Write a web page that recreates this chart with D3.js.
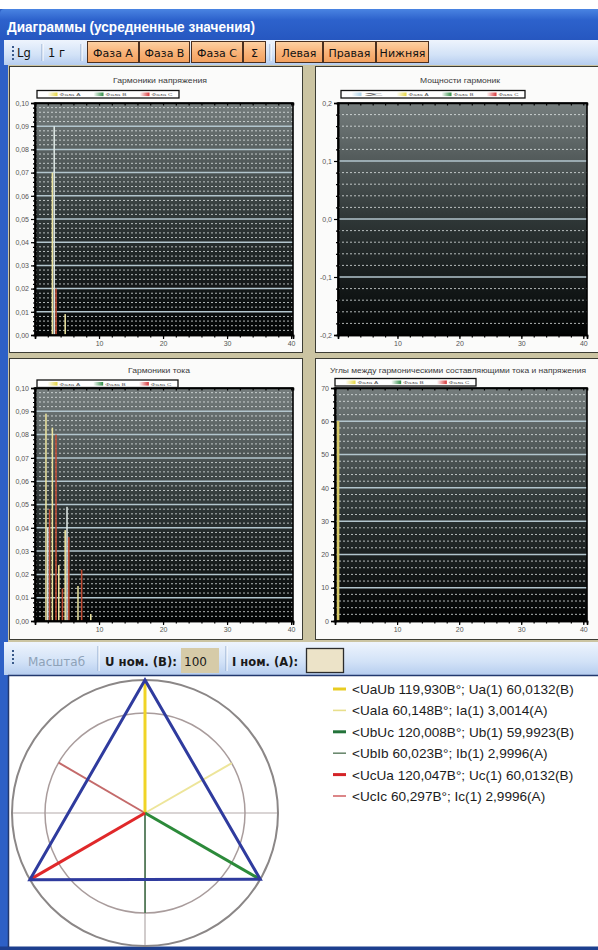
<!DOCTYPE html>
<html lang="ru">
<head>
<meta charset="utf-8">
<title>Диаграммы (усредненные значения)</title>
<script src="https://cdn.jsdelivr.net/npm/d3@7/dist/d3.min.js"></script>
<style>
html,body{margin:0;padding:0;background:#fff;}
svg{display:block;}
</style>
</head>
<body>
<svg id="view" width="598" height="950"></svg>
<script>
// ---------- harmonic number axis ----------
const harmonicTicks = [10, 20, 30, 40];

// ---------- Гармоники напряжения ----------
const voltageHarmonics = [3, 5];
const voltagePhaseA = [0.070, 0.009];
const voltagePhaseB = [0.090, 0];
const voltagePhaseC = [0.020, 0];
const voltageTicks = [0, 0.01, 0.02, 0.03, 0.04, 0.05, 0.06, 0.07, 0.08, 0.09, 0.10];

// ---------- Мощности гармоник ----------
const powerHarmonics = [];
const powerTotal = [];
const powerTicks = [-0.2, -0.1, 0, 0.1, 0.2];

// ---------- Гармоники тока ----------
const currentHarmonics = [2, 3, 4, 5, 7, 9];
const currentPhaseA = [0.089, 0.083, 0.024, 0.039, 0.015, 0.003];
const currentPhaseB = [0.040, 0, 0, 0.049, 0, 0];
const currentPhaseC = [0.048, 0.080, 0.014, 0.036, 0.022, 0];
const currentTicks = [0, 0.01, 0.02, 0.03, 0.04, 0.05, 0.06, 0.07, 0.08, 0.09, 0.10];

// ---------- Углы между гармоническими составляющими ----------
const angleHarmonics = [1];
const anglePhaseA = [60.1];
const angleTicks = [0, 10, 20, 30, 40, 50, 60, 70];

// ---------- legend captions ----------
const phaseLabels = ["Фаза А", "Фаза В", "Фаза С"];
const powerLabels = ["Σ", "Фаза А", "Фаза В", "Фаза С"];

// ---------- vector diagram (fundamental) ----------
const pairNames = ["UaUb", "UaIa", "UbUc", "UbIb", "UcUa", "UcIc"];
const pairAngles = [119.930, 60.148, 120.008, 60.023, 120.047, 60.297];
const fundNames = ["Ua(1)", "Ia(1)", "Ub(1)", "Ib(1)", "Uc(1)", "Ic(1)"];
const fundValues = [60.0132, 3.0014, 59.9923, 2.9996, 60.0132, 2.9996];
const fundUnits = ["В", "A", "В", "A", "В", "A"];

// ---------- toolbar captions ----------
const modeButtons = ["Lg", "1 г"];
const phaseButtons = ["Фаза А", "Фаза В", "Фаза С", "Σ"];
const panelButtons = ["Левая", "Правая", "Нижняя"];

const svg = d3.select("#view");
const defs = svg.append("defs");

function vGrad(id, stops) {
  const gr = defs.append("linearGradient").attr("id", id)
    .attr("x1", 0).attr("y1", 0).attr("x2", 0).attr("y2", 1);
  stops.forEach(([o, c]) => gr.append("stop").attr("offset", o).attr("stop-color", c));
}
function hGrad(id, stops) {
  const gr = defs.append("linearGradient").attr("id", id)
    .attr("x1", 0).attr("y1", 0).attr("x2", 1).attr("y2", 0);
  stops.forEach(([o, c]) => gr.append("stop").attr("offset", o).attr("stop-color", c));
}
vGrad("plotBg", [[0, "#757d7d"], [0.5, "#2f3737"], [1, "#010303"]]);
vGrad("titleBar", [[0, "#4a84e2"], [0.35, "#2d62cc"], [1, "#2657c0"]]);
vGrad("toolbar", [[0, "#eef4fd"], [0.6, "#d2e2f7"], [1, "#b6cdef"]]);
vGrad("btn", [[0, "#fdd2a4"], [0.5, "#f9b47a"], [1, "#f2a05e"]]);
const phaseColor = { S: "#a9d0e6", A: "#e6d640", B: "#2f8c45", C: "#d8363a" };
Object.entries(phaseColor).forEach(([k, c]) =>
  hGrad("sw" + k, [[0, "#ffffff"], [0.45, "#ffffff"], [1, c]]));

// ---------- window frame ----------
svg.append("rect").attr("x", 0).attr("y", 9).attr("width", 598).attr("height", 941).attr("fill", "#2d60c6");
svg.append("path").attr("d", "M0,40 V14 Q0,9 5,9 H598 V40 Z").attr("fill", "url(#titleBar)");
svg.append("text").attr("x", 7).attr("y", 32)
  .attr("font-family", "Liberation Sans, Arial, sans-serif").attr("font-weight", "bold")
  .attr("font-size", 15).attr("fill", "#fff")
  .attr("textLength", 248).attr("lengthAdjust", "spacingAndGlyphs")
  .text("Диаграммы (усредненные значения)");

// ---------- toolbar ----------
function gripper(x, y0) {
  for (let i = 0; i < 4; i++)
    svg.append("rect").attr("x", x).attr("y", y0 + i * 4).attr("width", 2).attr("height", 2).attr("fill", "#3a5a8a");
}
function separator(x, y0, y1) {
  svg.append("line").attr("x1", x).attr("x2", x).attr("y1", y0).attr("y2", y1).attr("stroke", "#8fa8cc");
  svg.append("line").attr("x1", x + 1).attr("x2", x + 1).attr("y1", y0).attr("y2", y1).attr("stroke", "#fff");
}
const uiFont = "DejaVu Sans, Verdana, sans-serif";
svg.append("rect").attr("x", 4).attr("y", 40).attr("width", 594).attr("height", 25).attr("fill", "url(#toolbar)");
gripper(12, 46);
const modeX = [17, 48];
modeButtons.forEach((t, i) => {
  svg.append("text").attr("x", modeX[i]).attr("y", 57).attr("font-family", uiFont)
    .attr("font-size", 11.5).attr("fill", "#111").text(t);
});
separator(42, 44, 61);
separator(81, 44, 61);
const phaseBtnX = [87, 139, 191, 243];
const phaseBtnW = [51, 50, 51, 22];
phaseButtons.forEach((t, i) => {
  svg.append("rect").attr("x", phaseBtnX[i] + 0.5).attr("y", 41.5).attr("width", phaseBtnW[i]).attr("height", 21)
    .attr("fill", "url(#btn)").attr("stroke", "#4a3020").attr("stroke-width", 1);
  svg.append("text").attr("x", phaseBtnX[i] + phaseBtnW[i] / 2 + 0.5).attr("y", 56.5).attr("text-anchor", "middle")
    .attr("font-family", uiFont).attr("font-size", 11).attr("fill", "#111").text(t);
});
separator(270, 44, 61);
const panelBtnX = [275, 323, 376];
const panelBtnW = [47, 52, 52];
panelButtons.forEach((t, i) => {
  svg.append("rect").attr("x", panelBtnX[i] + 0.5).attr("y", 41.5).attr("width", panelBtnW[i]).attr("height", 21)
    .attr("fill", "url(#btn)").attr("stroke", "#4a3020").attr("stroke-width", 1);
  svg.append("text").attr("x", panelBtnX[i] + panelBtnW[i] / 2 + 0.5).attr("y", 56.5).attr("text-anchor", "middle")
    .attr("font-family", uiFont).attr("font-size", 11).attr("fill", "#111").text(t);
});

// ---------- chart area (four panels) ----------
svg.append("rect").attr("x", 8).attr("y", 65).attr("width", 590).attr("height", 577).attr("fill", "#cbc4a2");
const panels = [[9.5, 66.5, 293, 286], [315.5, 66.5, 290, 286], [9.5, 358.5, 293, 281], [315.5, 358.5, 290, 281]];
panels.forEach(([px, py, pw, ph]) => {
  svg.append("rect").attr("x", px).attr("y", py).attr("width", pw).attr("height", ph)
    .attr("fill", "#fbfbfa").attr("stroke", "#3c3c34").attr("stroke-width", 1);
});

const labelFont = "Liberation Sans, Arial, sans-serif";
const commaFmt = p => v => d3.format("." + p + "f")(v).replace(".", ",").replace("−", "-");

function drawChart(spec) {
  const g = svg.append("g");
  const x = d3.scaleLinear().domain(spec.xDomain).range([spec.left, spec.right]);
  const y = d3.scaleLinear().domain(spec.yDomain).range([spec.bottom, spec.top]);

  // title
  g.append("text").attr("x", spec.titleX).attr("y", spec.titleY).attr("text-anchor", "middle")
    .attr("font-family", labelFont).attr("font-size", 6.5).attr("fill", "#3a3a3a")
    .attr("textLength", spec.titleW).attr("lengthAdjust", "spacingAndGlyphs").text(spec.title);

  // legend
  const lg = g.append("g").attr("transform", `translate(${spec.legendX},${spec.legendY})`);
  lg.append("rect").attr("width", spec.legendW).attr("height", 7.5)
    .attr("fill", "#fff").attr("stroke", "#111").attr("stroke-width", 1.3);
  const itemW = (spec.legendW - 4) / spec.legend.length;
  spec.legend.forEach((it, i) => {
    const ix = 2.5 + i * itemW;
    lg.append("rect").attr("x", ix).attr("y", 2).attr("width", 18).attr("height", 3.6).attr("fill", `url(#sw${it.key})`);
    lg.append("text").attr("x", ix + 20).attr("y", 5.6).attr("font-family", labelFont).attr("font-size", 4.3)
      .attr("fill", "#555").attr("textLength", itemW - 25).attr("lengthAdjust", "spacingAndGlyphs").text(it.label);
  });

  // plot background
  g.append("rect").attr("x", spec.left).attr("y", spec.top)
    .attr("width", spec.right - spec.left).attr("height", spec.bottom - spec.top).attr("fill", "url(#plotBg)");

  // minor grid (dotted)
  const minor = y.ticks(spec.minorCount).filter(v => !spec.yTicks.some(t => Math.abs(t - v) < 1e-9));
  g.append("g").selectAll("line").data(minor).join("line")
    .attr("x1", spec.left).attr("x2", spec.right)
    .attr("y1", d => y(d)).attr("y2", d => y(d))
    .attr("stroke", "#e8eeee").attr("stroke-opacity", 0.75).attr("stroke-width", 1)
    .attr("stroke-dasharray", "2,2");

  // major grid
  g.append("g").selectAll("line").data(spec.yTicks.filter(v => v !== spec.yDomain[0])).join("line")
    .attr("x1", spec.left).attr("x2", spec.right)
    .attr("y1", d => y(d)).attr("y2", d => y(d))
    .attr("stroke", "#b3c6ce").attr("stroke-width", 1.5);

  // bars: one group per harmonic, one sub-bar per phase
  const sub = d3.scaleBand().domain(["A", "B", "C"]).range([-spec.groupHalf, spec.groupHalf]).paddingInner(0.15);
  spec.series.forEach(s => {
    const pts = spec.harmonics.map((hN, i) => ({ h: hN, v: s.values[i] })).filter(d => d.v > 0);
    g.append("g").selectAll("rect").data(pts).join("rect")
      .attr("x", d => x(d.h) + sub(s.key)).attr("width", sub.bandwidth())
      .attr("y", d => y(d.v)).attr("height", d => y(spec.yDomain[0]) - y(d.v))
      .attr("fill", s.fill);
  });

  // axes
  const ax = g.append("g").attr("font-family", labelFont);
  ax.append("g").attr("transform", `translate(${spec.left},0)`)
    .call(d3.axisLeft(y).tickValues(y.ticks(spec.minorCount)).tickFormat("").tickSize(2));
  ax.append("g").attr("transform", `translate(${spec.left},0)`)
    .call(d3.axisLeft(y).tickValues(spec.yTicks).tickFormat(spec.format).tickSize(4).tickPadding(2));
  ax.append("g").attr("transform", `translate(0,${spec.bottom})`)
    .call(d3.axisBottom(x).tickValues(x.ticks(20)).tickFormat("").tickSize(2.5));
  ax.append("g").attr("transform", `translate(0,${spec.bottom})`)
    .call(d3.axisBottom(x).tickValues(harmonicTicks).tickFormat(d3.format("d")).tickSize(4).tickPadding(2));
  ax.append("g").attr("transform", `translate(0,${spec.top})`)
    .call(d3.axisTop(x).tickValues(x.ticks(20)).tickFormat("").tickSize(-2.5));
  ax.selectAll(".domain").attr("stroke", "#000").attr("stroke-width", 1.6);
  ax.selectAll(".tick line").attr("stroke", "#000").attr("stroke-width", 1.2);
  ax.selectAll(".tick text").attr("font-size", 7).attr("fill", "#555");

  // frame
  g.append("rect").attr("x", spec.left).attr("y", spec.top)
    .attr("width", spec.right - spec.left).attr("height", spec.bottom - spec.top)
    .attr("fill", "none").attr("stroke", "#000").attr("stroke-width", 1.6);
}

const barFill = { A: "#ebe39e", B: "#dde7e4", C: "#c04c34" };
const phaseLegend = phaseLabels.map((l, i) => ({ key: "ABC"[i], label: l }));

drawChart({
  title: "Гармоники напряжения", titleX: 160, titleY: 83, titleW: 94,
  legendX: 37, legendY: 90.5, legendW: 142, legend: phaseLegend,
  left: 35, right: 293, top: 103, bottom: 335,
  xDomain: [0, 40.3], yDomain: [0, 0.10], yTicks: voltageTicks, minorCount: 50, format: commaFmt(2),
  harmonics: voltageHarmonics, groupHalf: 2.6,
  series: [{ key: "A", values: voltagePhaseA, fill: barFill.A },
           { key: "B", values: voltagePhaseB, fill: barFill.B },
           { key: "C", values: voltagePhaseC, fill: barFill.C }]
});

drawChart({
  title: "Мощности гармоник", titleX: 460, titleY: 83, titleW: 80,
  legendX: 341, legendY: 90.5, legendW: 184,
  legend: powerLabels.map((l, i) => ({ key: "SABC"[i], label: l })),
  left: 338, right: 587, top: 103, bottom: 335,
  xDomain: [0.4, 40.6], yDomain: [-0.2, 0.2], yTicks: powerTicks, minorCount: 20, format: commaFmt(1),
  harmonics: powerHarmonics, groupHalf: 2.6,
  series: [{ key: "A", values: powerTotal, fill: "#a9d0e6" }]
});

drawChart({
  title: "Гармоники тока", titleX: 159, titleY: 373, titleW: 62,
  legendX: 37, legendY: 380, legendW: 141, legend: phaseLegend,
  left: 35, right: 293, top: 388, bottom: 621,
  xDomain: [0, 40.3], yDomain: [0, 0.10], yTicks: currentTicks, minorCount: 50, format: commaFmt(2),
  harmonics: currentHarmonics, groupHalf: 2.6,
  series: [{ key: "A", values: currentPhaseA, fill: barFill.A },
           { key: "B", values: currentPhaseB, fill: barFill.B },
           { key: "C", values: currentPhaseC, fill: barFill.C }]
});

drawChart({
  title: "Углы между гармоническими составляющими тока и напряжения", titleX: 458, titleY: 373, titleW: 256,
  legendX: 335, legendY: 378.5, legendW: 141, legend: phaseLegend,
  left: 335, right: 587, top: 388, bottom: 621,
  xDomain: [0, 40.6], yDomain: [0, 70], yTicks: angleTicks, minorCount: 35, format: d3.format("d"),
  harmonics: angleHarmonics, groupHalf: 4.6,
  series: [{ key: "A", values: anglePhaseA, fill: "#d6c866" }]
});

// ---------- second toolbar ----------
svg.append("rect").attr("x", 4).attr("y", 642).attr("width", 594).attr("height", 33).attr("fill", "url(#toolbar)");
gripper(12, 650);
svg.append("text").attr("x", 28).attr("y", 666).attr("font-family", uiFont).attr("font-size", 12)
  .attr("fill", "#8ea2b8").text("Масштаб");
separator(98, 646, 671);
svg.append("text").attr("x", 105).attr("y", 666).attr("font-family", uiFont).attr("font-size", 12)
  .attr("font-weight", "bold").attr("fill", "#1a1a1a").attr("textLength", 72).attr("lengthAdjust", "spacingAndGlyphs")
  .text("U ном. (В):");
svg.append("rect").attr("x", 181).attr("y", 648).attr("width", 38).attr("height", 25).attr("fill", "#d6cba8");
svg.append("text").attr("x", 184).attr("y", 666).attr("font-family", uiFont).attr("font-size", 12)
  .attr("fill", "#1a1a1a").text("100");
separator(226, 646, 671);
svg.append("text").attr("x", 232).attr("y", 666).attr("font-family", uiFont).attr("font-size", 12)
  .attr("font-weight", "bold").attr("fill", "#1a1a1a").attr("textLength", 66).attr("lengthAdjust", "spacingAndGlyphs")
  .text("I ном. (A):");
svg.append("rect").attr("x", 306.5).attr("y", 648.5).attr("width", 37).attr("height", 24)
  .attr("fill", "#ece3c8").attr("stroke", "#2c2c2c").attr("stroke-width", 1.3);

// ---------- vector diagram area ----------
svg.append("rect").attr("x", 9).attr("y", 675).attr("width", 589).attr("height", 272).attr("fill", "#fff");
svg.append("line").attr("x1", 8).attr("x2", 598).attr("y1", 675.5).attr("y2", 675.5).attr("stroke", "#22386e").attr("stroke-width", 1.5);
svg.append("rect").attr("x", 0).attr("y", 946.5).attr("width", 598).attr("height", 4).attr("fill", "#1d3f8e");
svg.append("line").attr("x1", 8.5).attr("x2", 8.5).attr("y1", 675).attr("y2", 947).attr("stroke", "#22386e").attr("stroke-width", 1.5);

const cx = 145, cy = 813;
const uScale = d3.scaleLinear().domain([0, 60]).range([0, 133]);
const iScale = d3.scaleLinear().domain([0, 3]).range([0, 100]);

// phasor angles (degrees, counter-clockwise), Ua along the vertical
const angUa = 90;
const angUb = angUa - pairAngles[0];
const angUc = angUb - pairAngles[2];
const angIa = angUa - pairAngles[1];
const angIb = angUb - pairAngles[3];
const angIc = angUc - pairAngles[5];
const tip = (deg, r) => [cx + r * Math.cos(deg * Math.PI / 180), cy - r * Math.sin(deg * Math.PI / 180)];

const vd = svg.append("g");
const rOuter = uScale(60), rInner = iScale(3);
vd.append("line").attr("x1", cx - rOuter).attr("x2", cx + rOuter).attr("y1", cy).attr("y2", cy)
  .attr("stroke", "#b3aaaa").attr("stroke-width", 1.2);
vd.append("line").attr("x1", cx).attr("x2", cx).attr("y1", cy - rOuter).attr("y2", cy + rOuter)
  .attr("stroke", "#b3aaaa").attr("stroke-width", 1.2);
vd.append("circle").attr("cx", cx).attr("cy", cy).attr("r", rOuter)
  .attr("fill", "none").attr("stroke", "#8b8787").attr("stroke-width", 2);
vd.append("circle").attr("cx", cx).attr("cy", cy).attr("r", rInner)
  .attr("fill", "none").attr("stroke", "#a99c9c").attr("stroke-width", 1.5);

const phasors = [
  { ang: angIa, r: iScale(fundValues[1]), color: "#ede59a", w: 2 },
  { ang: angIb, r: iScale(fundValues[3]), color: "#3d6d45", w: 1.5 },
  { ang: angIc, r: iScale(fundValues[5]), color: "#c46a6a", w: 2 },
  { ang: angUa, r: uScale(fundValues[0]), color: "#f0d426", w: 3 },
  { ang: angUb, r: uScale(fundValues[2]), color: "#2c8a3a", w: 3 },
  { ang: angUc, r: uScale(fundValues[4]), color: "#e0282a", w: 3 }
];
vd.selectAll("line.ph").data(phasors).join("line").attr("class", "ph")
  .attr("x1", cx).attr("y1", cy)
  .attr("x2", d => tip(d.ang, d.r)[0]).attr("y2", d => tip(d.ang, d.r)[1])
  .attr("stroke", d => d.color).attr("stroke-width", d => d.w);

const tri = [tip(angUa, uScale(fundValues[0])), tip(angUb, uScale(fundValues[2])), tip(angUc, uScale(fundValues[4]))];
vd.append("path").attr("d", d3.line()(tri) + "Z")
  .attr("fill", "none").attr("stroke", "#2f3b9e").attr("stroke-width", 3).attr("stroke-linejoin", "miter");

// legend of the vector diagram
const legendColors = ["#e8cc22", "#e8df8c", "#23733a", "#6c8a70", "#d42326", "#d4676a"];
const legendWidths = [3, 1.6, 3, 1.6, 3, 1.6];
const vl = svg.append("g").attr("font-family", labelFont);
pairNames.forEach((p, i) => {
  const yy = 694 + i * 21.4;
  vl.append("line").attr("x1", 333).attr("x2", 346).attr("y1", yy - 5).attr("y2", yy - 5)
    .attr("stroke", legendColors[i]).attr("stroke-width", legendWidths[i]);
  const txt = `<${p} ${d3.format(".3f")(pairAngles[i]).replace(".", ",")}В°; ${fundNames[i]} ` +
    `${d3.format(".4f")(fundValues[i]).replace(".", ",")}(${fundUnits[i]})`;
  vl.append("text").attr("x", 352).attr("y", yy).attr("font-size", 13.6).attr("fill", "#1c1c1c").text(txt);
});
</script>
</body>
</html>
